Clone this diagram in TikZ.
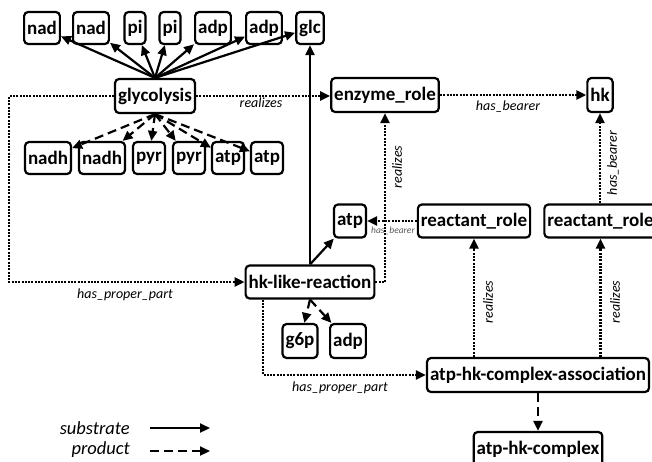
\documentclass[tikz,border=0pt]{standalone}
\usepackage{fontspec}
\setmainfont{Carlito}
\usetikzlibrary{arrows.meta,calc}
\begin{document}
\begin{tikzpicture}[x=1pt,y=-1pt,
  box/.style={draw,line width=2.2pt,rounded corners=4pt,inner xsep=3pt,inner ysep=0pt,
    minimum height=32pt,font=\bfseries\fontsize{19}{22}\selectfont},
  tip/.style={-{Triangle[length=10pt,width=9pt]}},
  sub/.style={tip,line width=2.2pt},
  prod/.style={tip,line width=2.2pt,dash pattern=on 9pt off 5pt},
  rel/.style={tip,line width=2.5pt,dash pattern=on 2pt off 1.3pt},
  lab/.style={font=\itshape\fontsize{14}{16}\selectfont,inner sep=0pt},
  leg/.style={font=\itshape\fontsize{18.5}{20}\selectfont,inner sep=0pt,anchor=east}]
\useasboundingbox (0,0) rectangle (652,461);
% top row
\node[box] (nad1) at (42,28) {nad};
\node[box] (nad2) at (91,28) {nad};
\node[box] (pi1) at (135,28) {pi};
\node[box] (pi2) at (170,28) {pi};
\node[box] (adp1) at (213,28) {adp};
\node[box] (adp2) at (264,28) {adp};
\node[box] (glc) at (310,28) {glc};
\node[box,minimum height=34pt] (gly) at (155,96) {glycolysis};
% bottom row
\node[box] (nadh1) at (48,158) {nadh};
\node[box] (nadh2) at (102,158) {nadh};
\node[box] (pyr1) at (149,158) {pyr};
\node[box] (pyr2) at (189,158) {pyr};
\node[box] (atp1) at (228,158) {atp};
\node[box] (atpb) at (267,158) {atp};
% right
\node[box,minimum height=34pt] (enz) at (385,95) {enzyme\_role};
\node[box,minimum height=34pt] (hk) at (600,95) {hk};
\node[box,minimum height=33pt] (atpm) at (350,221) {atp};
\node[box,minimum height=33pt] (rr1) at (474,221) {reactant\_role};
\node[box,minimum height=33pt] (rr2) at (600.5,221) {reactant\_role};
\node[box,minimum height=33pt] (hkr) at (310,282) {hk-like-reaction};
\node[box,minimum height=34pt] (g6p) at (300,341) {g6p};
\node[box,minimum height=34pt] (adp3) at (348,341) {adp};
\node[box,minimum height=34pt] (assoc) at (538,375) {atp-hk-complex-association};
\node[box,minimum height=34pt] (cplx) at (538,449) {atp-hk-complex};
% substrate arrows from glycolysis
\foreach \n in {nad1,nad2,pi1,pi2,adp1,adp2,glc}
  \draw[sub] (gly.north) -- (\n);
\foreach \n in {nadh1,nadh2,pyr1,pyr2,atp1,atpb}
  \draw[prod] (gly.south) -- (\n);
% hk-like-reaction
\draw[sub] (hkr.north) -- (glc.south);
\draw[sub] (hkr.north) -- (atpm);
\draw[prod] (hkr.south) -- (g6p);
\draw[prod] (hkr.south) -- (adp3);
% relations
\draw[rel] (gly.east) -- (gly.east -| enz.west);
\draw[rel] (enz.east) -- (enz.east -| hk.west);
\draw[rel] (gly.west) -- ++(-105,0) |- (hkr.west);
\draw[rel] (hkr.east) -| (enz.south);
\draw[rel] (rr1.west) -- (atpm.east);
\draw[rel] (rr2.north -| hk) -- (hk.south);
\draw[rel] ([xshift=-47pt]hkr.south) |- (assoc.west);
\draw[rel] (assoc.north -| rr1) -- (rr1.south);
\draw[rel] (assoc.north -| rr2) -- (rr2.south);
\draw[prod] (assoc.south) -- (cplx.north);
% labels
\node[lab] (l1) at (261,103) {realizes};
\node[lab] (l2) at (508,107) {has\_bearer};
\node[lab] (l3) at (125,295) {has\_proper\_part};
\node[lab] (l4) at (340,388) {has\_proper\_part};
\node[lab,rotate=90] (l5) at (397,167) {realizes};
\node[lab,font=\itshape\fontsize{9.5}{10}\selectfont,text=black!65] (l6) at (393,231) {has\_bearer};
\node[lab,rotate=90] (l7) at (613,163) {has\_bearer};
\node[lab,rotate=90] (l8) at (488,302) {realizes};
\node[lab,rotate=90] (l9) at (615,302) {realizes};
% legend
\node[leg] (ls) at (130,428) {substrate};
\node[leg] (lp) at (130,450) {product};
\coordinate (s1) at (150,428);
\coordinate (s2) at (210,428);
\coordinate (p1) at (150,451);
\coordinate (p2) at (210,451);
\draw[sub] (s1) -- (s2);
\draw[prod] (p1) -- (p2);
\end{tikzpicture}
\end{document}
